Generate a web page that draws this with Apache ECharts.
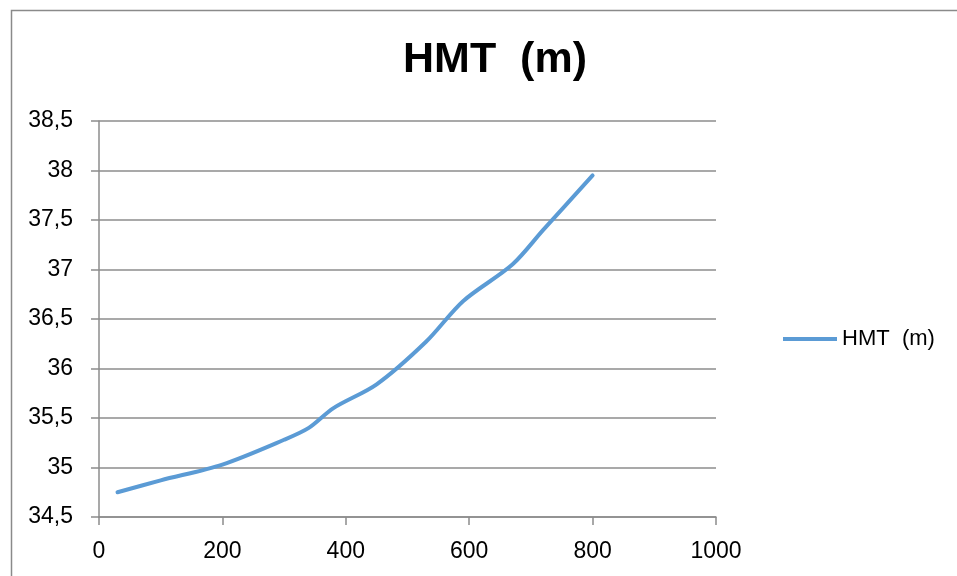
<!DOCTYPE html>
<html>
<head>
<meta charset="utf-8">
<script src="https://cdn.jsdelivr.net/npm/echarts@6/dist/echarts.min.js"></script>
<style>html,body{margin:0;padding:0;background:#fff;}#c{width:957px;height:576px;}</style>
</head>
<body>
<div id="c"></div>
<script>
var titleText = 'HMT  (m)';
var seriesName = 'HMT  (m)';
var xValues = [30, 100, 200, 300, 340, 380, 450, 530, 590, 670, 720, 800];
var yValues = [34.75, 34.87, 35.03, 35.28, 35.4, 35.6, 35.84, 36.27, 36.68, 37.05, 37.4, 37.95];

var data = xValues.map(function (x, i) { return [x, yValues[i]]; });
var font = 'Liberation Sans';
var chart = echarts.init(document.getElementById('c'));
chart.setOption({
  animation: false,
  graphic: [{
    type: 'rect', left: 9, top: 8,
    shape: { width: 1000, height: 700 },
    style: { fill: 'none', stroke: '#8a8a8a', lineWidth: 1.5 }
  }],
  title: {
    text: titleText, left: 490, top: 34, textAlign: 'center',
    textStyle: { fontFamily: font, fontWeight: 'bold', fontSize: 43, color: '#000' }
  },
  legend: {
    left: 783, top: 328, orient: 'vertical', padding: 0,
    itemWidth: 54, itemHeight: 4, itemGap: 6,
    textStyle: { fontFamily: font, fontSize: 22, color: '#000', padding: [0, 0, 0, 0] },
    data: [{ name: seriesName, icon: 'path://M0,0L54,0L54,4L0,4Z' }]
  },
  grid: { left: 99, right: 241, top: 121, bottom: 59, containLabel: false },
  xAxis: {
    type: 'value', min: 0, max: 1000, interval: 200,
    axisLine: { show: true, lineStyle: { color: '#8c8c8c', width: 1.5 } },
    axisTick: { show: true, length: 8, lineStyle: { color: '#8c8c8c', width: 1.5 } },
    axisLabel: { margin: 23, fontFamily: font, fontSize: 23, color: '#000',
      formatter: function (v) { return String(v); } },
    splitLine: { show: false }
  },
  yAxis: {
    type: 'value', min: 34.5, max: 38.5, interval: 0.5,
    axisLine: { show: true, lineStyle: { color: '#8c8c8c', width: 1.5 } },
    axisTick: { show: true, length: 8, lineStyle: { color: '#8c8c8c', width: 1.5 } },
    axisLabel: { margin: 26, fontFamily: font, fontSize: 23, color: '#000',
      formatter: function (v) { return String(v).replace('.', ','); } },
    splitLine: { show: true, lineStyle: { color: '#8c8c8c', width: 1.5 } }
  },
  series: [{
    name: seriesName, type: 'line', data: data,
    smooth: 0.3, showSymbol: false, symbol: 'none',
    lineStyle: { color: '#5b9bd5', width: 4, cap: 'round' },
    itemStyle: { color: '#5b9bd5' }
  }]
});
</script>
</body>
</html>
